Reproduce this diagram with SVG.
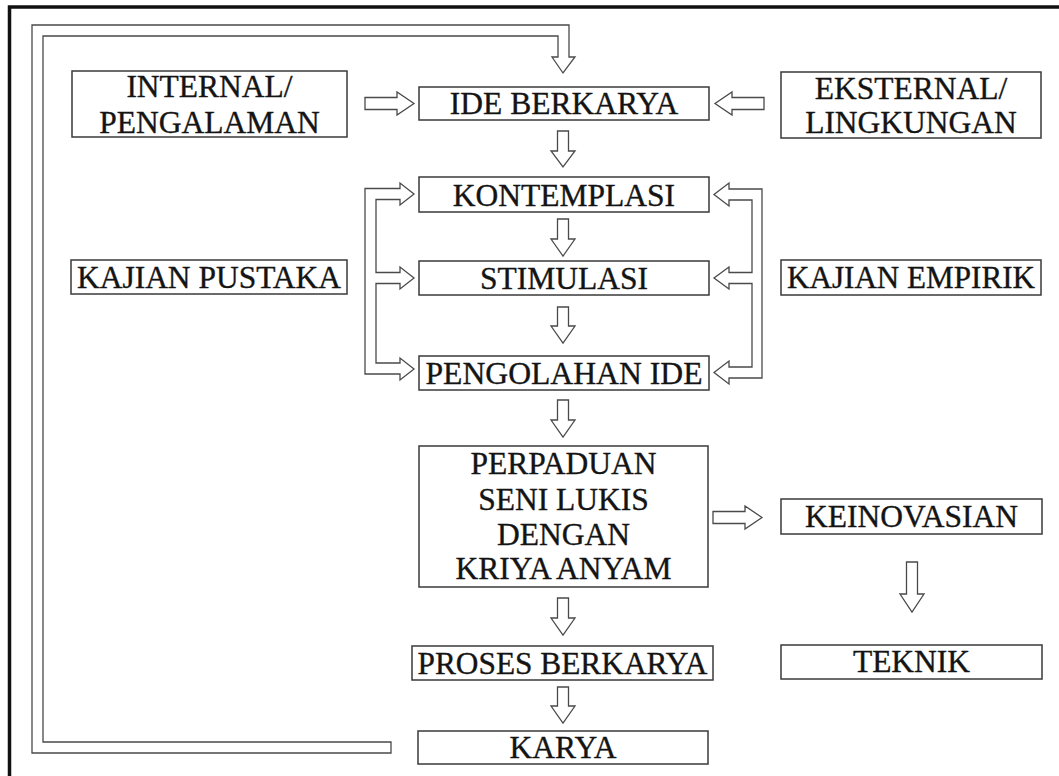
<svg xmlns="http://www.w3.org/2000/svg" width="1059" height="776" viewBox="0 0 1059 776">
<style>
.box{fill:#fff;stroke:#3a3a3a;stroke-width:1.5}
.arr{fill:#fff;stroke:#4a4a4a;stroke-width:1.3;stroke-linejoin:miter}
.t{font-family:"Liberation Serif","Times New Roman",serif;font-size:31.5px;fill:#141414;stroke:#141414;stroke-width:0.35;text-anchor:middle}
</style>
<rect width="1059" height="776" fill="#fff"/>
<path d="M9.5,776 V7 H1059" fill="none" stroke="#111" stroke-width="3.5"/>
<g id="connectors">
<path id="feedback" class="arr" d="M391,742 H43 V36 H558 V57 H552 L563,73 L575,57 H569 V25 H32 V753 H391 Z"/>
<path class="arr" d="M365,97.5 H397 V92 L414,103.5 L397,115 V109.5 H365 Z"/>
<path class="arr" d="M764,97.5 H732 V92 L715,103.5 L732,115 V109.5 H764 Z"/>
<path class="arr" d="M557.5,131 H568.5 V151 H575 L563,167 L551,151 H557.5 Z"/>
<path class="arr" d="M557.5,219 H568.5 V239 H575 L563,256 L551,239 H557.5 Z"/>
<path class="arr" d="M557.5,307 H568.5 V326 H575 L563,343 L551,326 H557.5 Z"/>
<path class="arr" d="M557.5,400 H568.5 V420 H575 L563,437 L551,420 H557.5 Z"/>
<path class="arr" d="M557.5,598 H568.5 V618 H575 L563,635 L551,618 H557.5 Z"/>
<path class="arr" d="M557.5,687 H568.5 V706 H575 L563,723 L551,706 H557.5 Z"/>
<path class="arr" d="M906.5,562 H917.5 V594 H924 L912,612 L900,594 H906.5 Z"/>
<path class="arr" d="M713,511.5 H745 V506 L762,517.5 L745,529 V523.5 H713 Z"/>
<path id="leftBracket" class="arr" d="M400,188.5 H365 V374 H400 V380 L414,369 L400,358 V363 H376 V283.5 H400 V289 L414,278 L400,267 V272.5 H376 V199.5 H400 V205 L414,194 L400,183 Z"/>
<path id="rightBracket" class="arr" d="M729,189 H762 V378 H729 V384 L714,372.5 L729,361 V367 H752 V283.5 H729 V289 L714,278 L729,267 V272.5 H752 V200 H729 V206 L714,194.5 L729,183 Z"/>
</g>
<g id="internal"><rect class="box" x="72" y="71" width="275" height="66"/><text class="t" x="209.5" y="97">INTERNAL/</text><text class="t" x="209.5" y="133">PENGALAMAN</text></g>
<g id="ide"><rect class="box" x="419" y="87" width="290" height="33"/><text class="t" x="564" y="114">IDE BERKARYA</text></g>
<g id="eksternal"><rect class="box" x="781" y="72" width="260" height="66"/><text class="t" x="911" y="99">EKSTERNAL/</text><text class="t" x="911" y="133">LINGKUNGAN</text></g>
<g id="kontemplasi"><rect class="box" x="419" y="177" width="290" height="35"/><text class="t" x="564" y="205.5">KONTEMPLASI</text></g>
<g id="stimulasi"><rect class="box" x="419" y="261" width="290" height="34"/><text class="t" x="564" y="288.5">STIMULASI</text></g>
<g id="pengolahan"><rect class="box" x="419" y="356" width="290" height="34"/><text class="t" x="564" y="383.5" textLength="277" lengthAdjust="spacingAndGlyphs">PENGOLAHAN IDE</text></g>
<g id="pustaka"><rect class="box" x="71" y="260" width="276" height="34"/><text class="t" x="209" y="287.5" textLength="264" lengthAdjust="spacingAndGlyphs">KAJIAN PUSTAKA</text></g>
<g id="empirik"><rect class="box" x="781" y="260" width="260" height="35"/><text class="t" x="911" y="288" textLength="248" lengthAdjust="spacingAndGlyphs">KAJIAN EMPIRIK</text></g>
<g id="perpaduan"><rect class="box" x="419" y="446" width="289" height="141"/><text class="t" x="563.5" y="474">PERPADUAN</text><text class="t" x="563.5" y="510">SENI LUKIS</text><text class="t" x="563.5" y="545">DENGAN</text><text class="t" x="563.5" y="579">KRIYA ANYAM</text></g>
<g id="keinovasian"><rect class="box" x="781" y="499" width="261" height="35"/><text class="t" x="911.5" y="527">KEINOVASIAN</text></g>
<g id="teknik"><rect class="box" x="781" y="645" width="261" height="34"/><text class="t" x="911.5" y="672">TEKNIK</text></g>
<g id="proses"><rect class="box" x="412" y="646" width="301" height="34"/><text class="t" x="562.5" y="673.5" textLength="290" lengthAdjust="spacingAndGlyphs">PROSES BERKARYA</text></g>
<g id="karya"><rect class="box" x="418" y="731" width="290" height="33"/><text class="t" x="563" y="758">KARYA</text></g>
</svg>
